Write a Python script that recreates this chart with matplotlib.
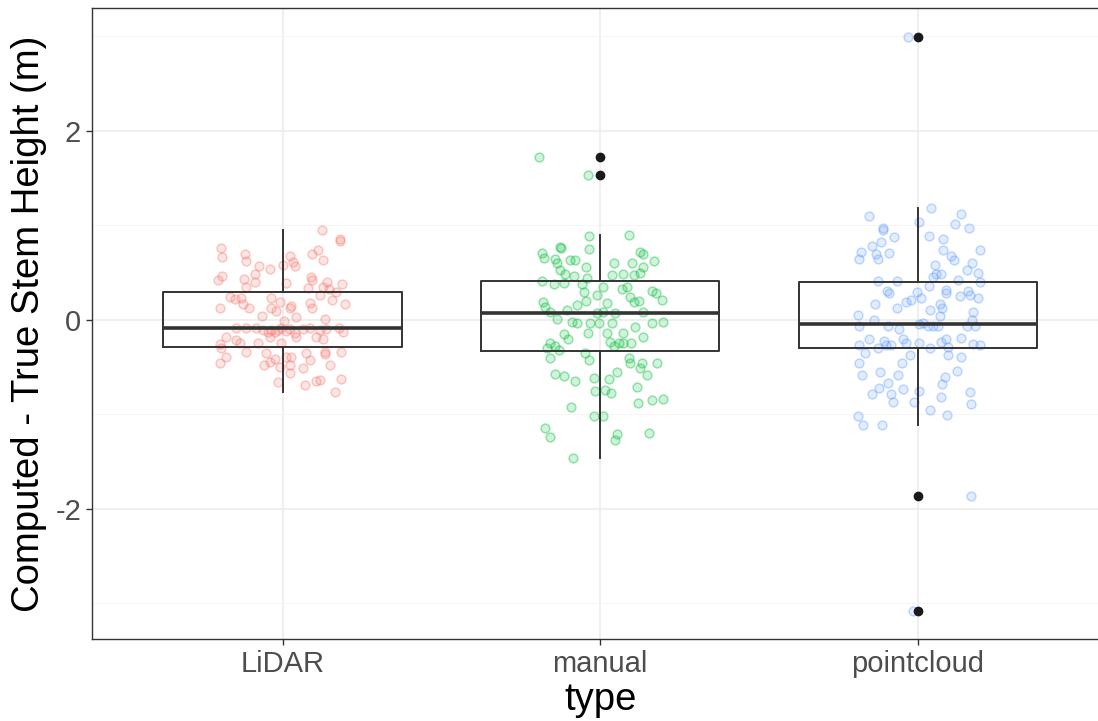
import numpy as np
import matplotlib.pyplot as plt
from matplotlib.colors import to_rgba

plt.rcParams['font.family'] = ['Liberation Sans', 'DejaVu Sans']
plt.rcParams['axes.unicode_minus'] = False

categorias = ['LiDAR', 'manual', 'pointcloud']
colores = ['#F8766D', '#00BA38', '#619CFF']

# puntos con jitter (valor y desplazamiento horizontal)
lidar_y = [0.95, 0.854, 0.83, 0.765, 0.67, 0.70, 0.628, 0.74, 0.70, 0.677,
           0.617, 0.571, 0.635, 0.571, 0.536, 0.582, 0.487, 0.423, 0.466, 0.434,
           0.406, 0.346, 0.388, 0.451, 0.423, 0.406, 0.353, 0.381, 0.325, 0.335,
           0.30, 0.265, 0.212, 0.169, 0.247, 0.219, 0.229, 0.123, 0.169, 0.123,
           0.229, 0.194, 0.123, 0.095, 0.123, 0.148, 0.035, 0.176, 0.123, 0.007,
           0.042, -0.007, -0.088, -0.081, -0.088, -0.106, -0.123, -0.106, -0.123, -0.106,
           -0.088, -0.113, -0.099, -0.141, -0.099, -0.088, -0.106, -0.099, -0.123, -0.088,
           -0.176, -0.212, -0.247, -0.247, -0.176, -0.247, -0.176, -0.176, -0.205, -0.254,
           -0.30, -0.335, -0.353, -0.416, -0.388, -0.388, -0.353, -0.423, -0.335, -0.36,
           -0.335, -0.451, -0.388, -0.476, -0.441, -0.494, -0.476, -0.564, -0.511, -0.476,
           -0.653, -0.688, -0.642, -0.635, -0.628, -0.765]
lidar_dx = [0.125, 0.18, 0.18, -0.193, -0.19, -0.117, -0.114, 0.113, 0.093, 0.022,
            0.033, 0.038, 0.127, -0.075, -0.041, 0.001, -0.088, -0.204, -0.19, -0.12,
            -0.086, -0.114, 0.012, 0.088, 0.093, 0.14, 0.127, 0.188, 0.146, 0.08,
            0.169, 0.117, 0.156, 0.198, -0.167, -0.151, -0.13, -0.196, -0.125, -0.106,
            -0.036, -0.009, -0.036, -0.02, 0.022, 0.027, 0.043, 0.085, 0.093, 0.132,
            -0.064, 0.006, -0.146, -0.114, -0.083, -0.062, -0.046, -0.036, -0.025, -0.015,
            -0.004, 0.012, 0.022, 0.038, 0.064, 0.085, 0.117, 0.138, 0.19, 0.177,
            -0.177, -0.146, -0.135, -0.078, -0.041, -0.004, 0.043, 0.106, 0.127, -0.198,
            -0.193, -0.114, -0.051, -0.025, 0.012, 0.027, 0.075, 0.085, 0.132, 0.133,
            0.185, -0.198, -0.177, -0.057, -0.041, -0.009, 0.022, 0.022, 0.064, 0.148,
            -0.015, 0.069, 0.106, 0.117, 0.185, 0.164]

manual_y = [1.728, 1.534, 0.889, 0.90, 0.713, 0.769, 0.76, 0.748, 0.653, 0.642,
            0.60, 0.635, 0.635, 0.557, 0.723, 0.698, 0.628, 0.607, 0.60, 0.564,
            0.529, 0.487, 0.466, 0.416, 0.381, 0.388, 0.381, 0.441, 0.353, 0.476,
            0.487, 0.476, 0.494, 0.353, 0.265, 0.183, 0.325, 0.247, 0.194, 0.205,
            0.31, 0.282, 0.212, 0.30, 0.205, 0.159, 0.106, 0.194, 0.141, 0.088,
            0.007, -0.018, -0.028, -0.035, -0.028, 0.071, 0.088, 0.078, -0.035, 0.088,
            -0.028, -0.018, -0.141, -0.134, -0.134, -0.071, -0.183, -0.148, -0.205, -0.30,
            -0.275, -0.247, -0.317, -0.229, -0.247, -0.275, -0.247, -0.247, -0.346, -0.423,
            -0.406, -0.406, -0.459, -0.459, -0.511, -0.582, -0.451, -0.547, -0.571, -0.593,
            -0.642, -0.617, -0.628, -0.748, -0.741, -0.776, -0.705, -0.875, -0.847, -0.84,
            -0.924, -1.012, -1.012, -1.146, -1.242, -1.206, -1.27, -1.199, -1.46]
manual_dx = [-0.192, -0.037, -0.034, 0.091, -0.184, -0.128, -0.124, -0.034, -0.178, -0.142,
             -0.136, -0.094, -0.079, -0.045, 0.126, 0.134, 0.168, 0.044, 0.1, 0.134,
             -0.126, -0.111, -0.084, -0.184, -0.147, -0.115, -0.058, -0.042, 0.01, 0.037,
             0.073, 0.105, 0.124, 0.084, -0.01, 0.021, 0.068, 0.094, 0.105, 0.121,
             0.163, 0.176, 0.194, -0.052, -0.045, -0.073, -0.105, -0.181, -0.173, -0.158,
             -0.136, -0.089, -0.073, -0.031, -0.005, -0.01, 0.01, 0.047, 0.037, 0.136,
             0.163, 0.199, -0.037, 0.021, 0.073, 0.11, 0.136, -0.113, -0.1, -0.168,
             -0.142, -0.158, -0.131, 0.031, 0.058, 0.042, 0.073, 0.097, -0.047, -0.034,
             -0.158, 0.089, 0.094, 0.131, 0.126, 0.147, 0.178, 0.052, -0.142, -0.113,
             -0.079, -0.019, 0.026, -0.016, 0.016, 0.034, 0.115, 0.119, 0.163, 0.197,
             -0.092, -0.019, 0.01, -0.173, -0.158, 0.052, 0.047, 0.152, -0.086]

pointcloud_y = [2.99, -3.08, -1.862, 1.097, 1.18, 1.119, 0.976, 0.946, 1.032, 1.011,
                0.968, 0.881, 0.86, 0.89, 0.782, 0.829, 0.721, 0.644, 0.70, 0.644,
                0.708, 0.743, 0.674, 0.631, 0.743, 0.60, 0.579, 0.484, 0.458, 0.484,
                0.527, 0.492, 0.406, 0.415, 0.415, 0.363, 0.423, 0.311, 0.285, 0.298,
                0.32, 0.285, 0.255, 0.311, 0.268, 0.233, 0.19, 0.212, 0.233, 0.125,
                0.168, 0.168, 0.125, 0.104, 0.048, -0.004, 0.082, -0.004, 0.039, -0.069,
                -0.069, -0.091, -0.048, -0.035, -0.069, -0.06, -0.069, -0.069, -0.069, -0.199,
                -0.264, -0.22, -0.264, -0.264, -0.199, -0.242, -0.242, -0.294, -0.233, -0.207,
                -0.285, -0.19, -0.251, -0.264, -0.294, -0.35, -0.371, -0.371, -0.393, -0.458,
                -0.458, -0.587, -0.553, -0.579, -0.536, -0.609, -0.682, -0.665, -0.717, -0.726,
                -0.752, -0.782, -0.782, -0.868, -0.868, -0.812, -0.76, -0.89, -0.955, -1.011,
                -1.019, -1.114, -1.11]
pointcloud_dx = [-0.032, -0.016, 0.167, -0.153, 0.04, 0.137, -0.111, -0.109, 0.005, 0.116,
                 0.162, -0.074, 0.079, 0.035, -0.145, -0.116, -0.18, -0.185, -0.132, -0.127,
                 -0.09, 0.079, 0.103, 0.113, 0.196, 0.169, 0.053, 0.058, 0.048, 0.074,
                 0.155, 0.19, 0.196, -0.127, -0.067, 0.035, 0.127, -0.097, -0.09, -0.003,
                 0.088, 0.09, 0.132, 0.159, 0.164, 0.19, -0.037, -0.021, 0.011, -0.067,
                 -0.134, 0.069, 0.077, 0.037, -0.19, -0.137, 0.174, 0.169, 0.069, -0.185,
                 -0.095, -0.058, 0.005, 0.016, 0.032, 0.048, 0.063, 0.153, 0.18, -0.153,
                 -0.185, -0.106, -0.1, -0.085, -0.048, -0.037, 0.005, 0.037, 0.074, 0.09,
                 0.095, 0.137, 0.174, 0.196, -0.127, -0.166, -0.026, 0.095, 0.137, -0.185,
                 -0.05, -0.176, -0.119, -0.063, 0.122, 0.085, 0.077, -0.095, -0.121, -0.048,
                 0.003, -0.143, -0.085, -0.079, -0.011, 0.074, 0.164, 0.166, 0.039, 0.093,
                 -0.188, -0.172, -0.113]

# resumen de las cajas
medianas = [-0.09, 0.074, -0.048]
q1 = [-0.286, -0.325, -0.297]
q3 = [0.296, 0.413, 0.406]
bigote_inf = [-0.765, -1.46, -1.11]
bigote_sup = [0.95, 0.90, 1.18]
atipicos = [[], [1.728, 1.534], [2.99, -1.862, -3.08]]

puntos_y = [lidar_y, manual_y, pointcloud_y]
puntos_dx = [lidar_dx, manual_dx, pointcloud_dx]

fig = plt.figure(figsize=(10.98, 7.21), dpi=100)
ax = fig.add_axes([92/1098, 82/721, (1108.5-92)/1098, (639-8)/721])

ax.set_axisbelow(True)
ax.grid(True, which='major', color='#EBEBEB', lw=1.1)
ax.grid(True, which='minor', axis='y', color='#F4F4F4', lw=0.6)

for i in range(3):
    xs = (i + 1) + np.array(puntos_dx[i])
    ax.scatter(xs, puntos_y[i], s=40, facecolors=to_rgba(colores[i], 0.18),
               edgecolors=to_rgba(colores[i], 0.38), linewidths=1.1, zorder=2)

stats = []
for i in range(3):
    stats.append(dict(med=medianas[i], q1=q1[i], q3=q3[i],
                      whislo=bigote_inf[i], whishi=bigote_sup[i],
                      fliers=atipicos[i], label=categorias[i]))

ax.bxp(stats, positions=[1, 2, 3], widths=0.75, showcaps=False,
       boxprops=dict(color='#333333', lw=1.4),
       whiskerprops=dict(color='#333333', lw=1.4),
       medianprops=dict(color='#333333', lw=2.6),
       flierprops=dict(marker='o', markerfacecolor='#1a1a1a',
                       markeredgecolor='#1a1a1a', markersize=6),
       zorder=3)

ax.set_xlim(0.4, 3.6)
ax.set_ylim(-3.376, 3.30)
ax.set_xticks([1, 2, 3])
ax.set_xticklabels(categorias)
ax.set_yticks([-2, 0, 2])
ax.set_yticklabels(['-2', '0', '2'])
ax.set_yticks([-3, -1, 1, 3], minor=True)
ax.tick_params(axis='y', which='minor', length=0)
ax.tick_params(which='major', length=4.3, width=1, color='#333333',
               labelsize=21, labelcolor='#4D4D4D', pad=3.5)

for s in ax.spines.values():
    s.set_color('#333333')
    s.set_linewidth(1.0)

ax.set_xlabel('type', fontsize=27.5, labelpad=3)
ax.set_ylabel('Computed - True Stem Height (m)', fontsize=27.5, labelpad=6)

plt.savefig('out.png', dpi=100)
